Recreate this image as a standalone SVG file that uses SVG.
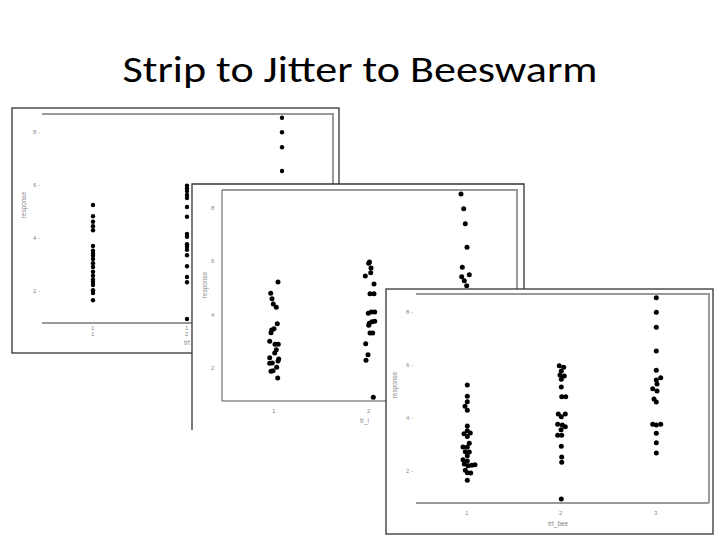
<svg xmlns="http://www.w3.org/2000/svg" width="720" height="540" viewBox="0 0 720 540">
<style>
.frame{fill:#fff;stroke:#333;stroke-width:1.3}
.gl{stroke:#999;stroke-width:2;fill:none}
.dl{stroke:#555;stroke-width:1;fill:none}
.tk{font-family:"Liberation Sans",Arial,sans-serif;font-size:6px;fill:#888}
.ax{font-family:"Liberation Sans",Arial,sans-serif;font-size:6.5px;fill:#888}
.d1 circle{r:2.2px;fill:#000}
.d circle{r:2.5px;fill:#000}
</style>
<rect width="720" height="540" fill="#fff"/>
<text x="360" y="82" text-anchor="middle" font-family="Carlito,'Liberation Sans',sans-serif" font-size="37" textLength="475" lengthAdjust="spacingAndGlyphs" fill="#000">Strip to Jitter to Beeswarm</text>

<g id="panel-strip">
<rect class="frame" x="12" y="108" width="327" height="245"/>
<path class="gl" d="M42 114H333V323"/>
<path class="gl" d="M42 323H333" stroke-width="1"/>
<text class="tk" x="33" y="134">8 -</text><text class="tk" x="33" y="187">6 -</text><text class="tk" x="33" y="240">4 -</text><text class="tk" x="33" y="293">2 -</text>
<text class="ax" transform="translate(26,205) rotate(-90)" text-anchor="middle">response</text>
<text class="tk" x="91" y="330">1</text><text class="tk" x="91" y="336">1</text>
<text class="tk" x="185" y="330">1</text><text class="tk" x="185" y="336">2</text>
<text class="ax" x="184" y="345">trt</text>
<g class="d1">
<circle cx="93" cy="205"/><circle cx="93" cy="216.3"/><circle cx="93" cy="221.7"/><circle cx="93" cy="226.3"/><circle cx="93" cy="230.3"/><circle cx="93" cy="246"/><circle cx="93" cy="250.7"/><circle cx="93" cy="253.7"/><circle cx="93" cy="255.7"/><circle cx="93" cy="259"/><circle cx="93" cy="263.3"/><circle cx="93" cy="267"/><circle cx="93" cy="271.7"/><circle cx="93" cy="275.7"/><circle cx="93" cy="279.7"/><circle cx="93" cy="282"/><circle cx="93" cy="285"/><circle cx="93" cy="290.3"/><circle cx="93" cy="293"/><circle cx="93" cy="300.3"/>
<circle cx="187" cy="185.7"/><circle cx="187" cy="188.5"/><circle cx="187" cy="191"/><circle cx="187" cy="195"/><circle cx="187" cy="198"/><circle cx="187" cy="207"/><circle cx="187" cy="216.7"/><circle cx="187" cy="234"/><circle cx="187" cy="236.7"/><circle cx="187" cy="244.3"/><circle cx="187" cy="246.7"/><circle cx="187" cy="249.7"/><circle cx="187" cy="255.3"/><circle cx="187" cy="266.3"/><circle cx="187" cy="277"/><circle cx="187" cy="282.3"/><circle cx="187" cy="319"/>
<circle cx="282" cy="117.7"/><circle cx="282" cy="132.3"/><circle cx="282" cy="147.3"/><circle cx="282" cy="171"/>
</g>
</g>

<g id="panel-jitter">
<rect x="192" y="184" width="332" height="246" fill="#fff"/>
<path class="frame" d="M192 430V184H524V289" fill="none"/>
<path class="gl" d="M222 190H517V300"/>
<path class="dl" d="M222 190V401H386"/>
<text class="tk" x="211" y="210">8</text><text class="tk" x="211" y="263">6</text><text class="tk" x="211" y="317">4</text><text class="tk" x="211" y="370">2</text>
<text class="ax" transform="translate(207,285) rotate(-90)" text-anchor="middle">response</text>
<text class="tk" x="272" y="413">1</text><text class="tk" x="367" y="413">2</text>
<text class="ax" x="360" y="423">tr_i</text>
<g class="d">
<circle cx="278" cy="282"/><circle cx="270.7" cy="293.3"/><circle cx="272" cy="298.7"/><circle cx="273.3" cy="304"/><circle cx="276.3" cy="307.3"/><circle cx="277.3" cy="323.7"/><circle cx="274" cy="328.7"/><circle cx="271.7" cy="330"/><circle cx="271" cy="332.7"/><circle cx="269.7" cy="341.3"/><circle cx="275" cy="344.3"/><circle cx="278.3" cy="344.3"/><circle cx="276.3" cy="349.7"/><circle cx="274.7" cy="353"/><circle cx="278.7" cy="359"/><circle cx="269.7" cy="357.7"/><circle cx="272.3" cy="363"/><circle cx="269.7" cy="363.3"/><circle cx="278" cy="361"/><circle cx="276.7" cy="367.3"/><circle cx="273" cy="370.7"/><circle cx="271" cy="371.3"/><circle cx="277.7" cy="378"/>
<circle cx="368.7" cy="263.3"/><circle cx="369.5" cy="262"/><circle cx="371" cy="268"/><circle cx="365.3" cy="276"/><circle cx="370.7" cy="272.7"/><circle cx="374" cy="284"/><circle cx="370" cy="293.7"/><circle cx="374" cy="293.7"/><circle cx="368.3" cy="313.3"/><circle cx="371.3" cy="312"/><circle cx="374.7" cy="312"/><circle cx="369.3" cy="323.3"/><circle cx="372" cy="321.7"/><circle cx="368.7" cy="325.3"/><circle cx="370" cy="333"/><circle cx="372.7" cy="333"/><circle cx="374.7" cy="321.3"/><circle cx="365.7" cy="343.7"/><circle cx="368" cy="354.7"/><circle cx="366" cy="360.3"/><circle cx="373.3" cy="397.3"/>
<circle cx="461" cy="194"/><circle cx="463.7" cy="208.7"/><circle cx="465.3" cy="223.7"/><circle cx="467" cy="247.3"/><circle cx="462.3" cy="267.3"/><circle cx="469.3" cy="274.7"/><circle cx="461.7" cy="276.7"/><circle cx="464.3" cy="280.7"/><circle cx="466.7" cy="285.7"/>
</g>
</g>

<g id="panel-beeswarm">
<rect class="frame" x="386" y="289" width="327" height="245"/>
<path class="gl" d="M416 294H709V503"/>
<path class="gl" d="M416 503H709" stroke-width="1"/>
<text class="tk" x="406" y="314">8 -</text><text class="tk" x="406" y="367">6 -</text><text class="tk" x="406" y="420">4 -</text><text class="tk" x="406" y="473">2 -</text>
<text class="ax" transform="translate(397,385) rotate(-90)" text-anchor="middle">response</text>
<text class="tk" x="465" y="515">1</text><text class="tk" x="559" y="515">2</text><text class="tk" x="654" y="515">3</text>
<text class="ax" x="548" y="526">trt_bee</text>
<g class="d">
<circle cx="467.3" cy="385"/><circle cx="467.3" cy="396.3"/><circle cx="467.3" cy="401.7"/><circle cx="465" cy="406.3"/><circle cx="467.3" cy="410.3"/><circle cx="467.3" cy="426"/><circle cx="467.3" cy="430.7"/><circle cx="464" cy="433.7"/><circle cx="470.3" cy="433"/><circle cx="467.3" cy="436.5"/><circle cx="469.3" cy="443.3"/><circle cx="463" cy="447"/><circle cx="467.3" cy="447"/><circle cx="465.3" cy="451.7"/><circle cx="469.3" cy="452"/><circle cx="467.3" cy="455.7"/><circle cx="463" cy="459.7"/><circle cx="467.3" cy="461"/><circle cx="464.3" cy="464"/><circle cx="468" cy="465.7"/><circle cx="471.7" cy="465.3"/><circle cx="475" cy="464.7"/><circle cx="465.3" cy="470.3"/><circle cx="467.3" cy="472.7"/><circle cx="470.7" cy="473"/><circle cx="467.3" cy="480.3"/>
<circle cx="559.3" cy="365.7"/><circle cx="563.7" cy="367.3"/><circle cx="561.3" cy="371"/><circle cx="560" cy="375"/><circle cx="564.3" cy="376"/><circle cx="561.3" cy="379.3"/><circle cx="561.3" cy="387"/><circle cx="561.7" cy="396.7"/><circle cx="565.7" cy="396.7"/><circle cx="558.3" cy="414"/><circle cx="565.3" cy="414"/><circle cx="561.3" cy="416.7"/><circle cx="557.7" cy="424.3"/><circle cx="562.3" cy="425"/><circle cx="565.3" cy="426.7"/><circle cx="561" cy="429.7"/><circle cx="557.7" cy="435.3"/><circle cx="561.7" cy="435.3"/><circle cx="561.3" cy="446.3"/><circle cx="561.7" cy="457"/><circle cx="561.7" cy="462.3"/><circle cx="561.3" cy="499"/>
<circle cx="656.3" cy="297.7"/><circle cx="656.3" cy="312.3"/><circle cx="656.3" cy="327.3"/><circle cx="656.3" cy="351"/><circle cx="656.3" cy="370.3"/><circle cx="660.7" cy="377.7"/><circle cx="656.3" cy="380"/><circle cx="657" cy="384"/><circle cx="652.7" cy="388.7"/><circle cx="657" cy="391"/><circle cx="654" cy="399"/><circle cx="656.3" cy="402"/><circle cx="652.7" cy="424.3"/><circle cx="656.3" cy="425"/><circle cx="660.7" cy="424.3"/><circle cx="656.3" cy="433.3"/><circle cx="656.3" cy="442.7"/><circle cx="656.3" cy="453"/>
</g>
</g>
</svg>
